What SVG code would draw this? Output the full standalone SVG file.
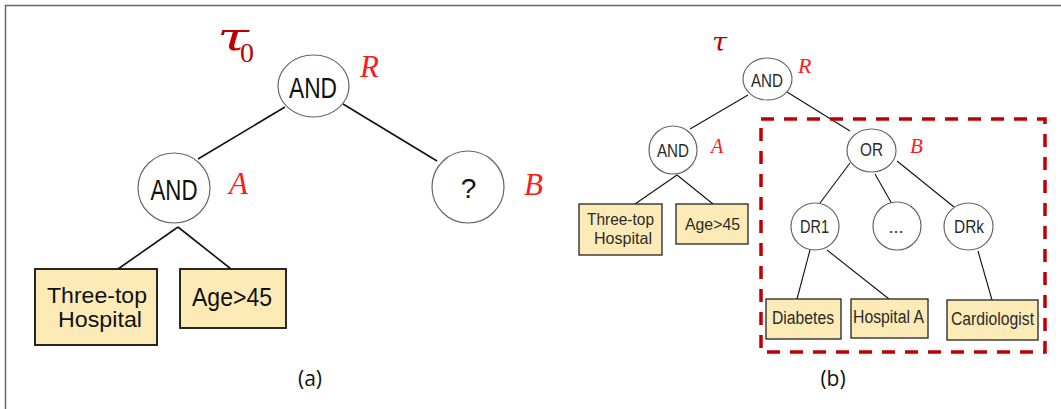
<svg xmlns="http://www.w3.org/2000/svg" width="1061" height="409" viewBox="0 0 1061 409">
<style>
.bg{fill:#ffffff}
.frame{fill:none;stroke:#666;stroke-width:1.5}
.node{fill:#ffffff;stroke:#666;stroke-width:1.2}
.boxa{fill:#fdebb7;stroke:#111;stroke-width:1.8}
.boxb{fill:#fdebb7;stroke:#222;stroke-width:1.3}
.t{font-family:"Liberation Sans",Arial,sans-serif;text-anchor:middle;fill:#111}
.tb{font-family:"Liberation Sans",Arial,sans-serif;text-anchor:middle;fill:#2a2a2a}
.lab{font-family:"Liberation Serif","Times New Roman",serif;font-style:italic;fill:#ff1a1a}
.tau{font-family:"DejaVu Serif",serif;font-style:italic;fill:#c00000}
.cap{font-family:"Open Sans","Noto Sans",sans-serif;text-anchor:middle;fill:#111}
.ea{stroke:#111;stroke-width:1.6;fill:none}
.eb{stroke:#111;stroke-width:1.1;fill:none}
.dash{fill:none;stroke:#c00000;stroke-width:3.5;stroke-dasharray:13 10}
</style>
<rect class="bg" x="0" y="0" width="1061" height="409"/>
<rect class="frame" x="5.5" y="5.5" width="1070" height="420"/>

<g id="connectors">
<line class="ea" x1="285" y1="107" x2="198" y2="159"/>
<line class="ea" x1="343" y1="104" x2="437" y2="161"/>
<line class="ea" x1="178" y1="227" x2="118" y2="269"/>
<line class="ea" x1="178" y1="227" x2="231" y2="269"/>
<line class="eb" x1="748" y1="95" x2="690" y2="129"/>
<line class="eb" x1="787" y1="92" x2="850" y2="131"/>
<line class="eb" x1="677" y1="175" x2="635" y2="204"/>
<line class="eb" x1="677" y1="175" x2="713" y2="204"/>
<line class="eb" x1="850" y1="163" x2="820" y2="203"/>
<line class="eb" x1="875" y1="174" x2="892" y2="204"/>
<line class="eb" x1="897" y1="161" x2="954" y2="207"/>
<line class="eb" x1="810" y1="250" x2="797" y2="299"/>
<line class="eb" x1="827" y1="250" x2="889" y2="299"/>
<line class="eb" x1="978" y1="251" x2="992" y2="300"/>
</g>

<g id="labels-a">
<text class="tau" x="217" y="50" font-size="40" textLength="32" lengthAdjust="spacingAndGlyphs">τ</text>
<text x="240" y="62" font-family="Liberation Serif, serif" font-size="28" fill="#c00000">0</text>
<text class="lab" x="360" y="77" font-size="31">R</text>
<text class="lab" x="229" y="194" font-size="31">A</text>
<text class="lab" x="524" y="195" font-size="31">B</text>
<text class="cap" x="310" y="386" font-size="21">(a)</text>
</g>

<g id="a-root"><ellipse class="node" cx="313.5" cy="86" rx="35.5" ry="31"/><text class="t" x="313" y="98" font-size="29" textLength="48" lengthAdjust="spacingAndGlyphs">AND</text></g>
<g id="a-and"><ellipse class="node" cx="174" cy="188" rx="36" ry="35"/><text class="t" x="174" y="200" font-size="29" textLength="47" lengthAdjust="spacingAndGlyphs">AND</text></g>
<g id="a-q"><circle class="node" cx="468" cy="187" r="36"/><text class="t" x="468.5" y="198" font-size="28">?</text></g>
<g id="a-three"><rect class="boxa" x="35" y="269" width="122" height="76"/><text class="t" x="97" y="303" font-size="21.5" textLength="100" lengthAdjust="spacingAndGlyphs">Three-top</text><text class="t" x="100" y="327" font-size="21.5" textLength="84" lengthAdjust="spacingAndGlyphs">Hospital</text></g>
<g id="a-age"><rect class="boxa" x="180" y="269" width="106" height="59"/><text class="t" x="232" y="306" font-size="26" textLength="80" lengthAdjust="spacingAndGlyphs">Age&gt;45</text></g>

<g id="labels-b">
<text class="tau" x="712" y="51" font-size="26" textLength="15" lengthAdjust="spacingAndGlyphs">τ</text>
<text class="lab" x="798" y="73" font-size="22">R</text>
<text class="lab" x="711" y="153" font-size="20">A</text>
<text class="lab" x="910" y="153" font-size="21">B</text>
<text class="cap" x="833" y="386" font-size="21">(b)</text>
</g>
<rect id="b-subtree" class="dash" x="761" y="119" width="284" height="233"/>

<g id="b-root"><ellipse class="node" cx="767.5" cy="79" rx="24.5" ry="21"/><text class="tb" x="767" y="87" font-size="18" textLength="32" lengthAdjust="spacingAndGlyphs">AND</text></g>
<g id="b-and"><circle class="node" cx="673" cy="150" r="24"/><text class="tb" x="673" y="157" font-size="18" textLength="32" lengthAdjust="spacingAndGlyphs">AND</text></g>
<g id="b-or"><ellipse class="node" cx="871.5" cy="150.5" rx="24.5" ry="21.5"/><text class="tb" x="871.5" y="156" font-size="18" textLength="23" lengthAdjust="spacingAndGlyphs">OR</text></g>
<g id="b-dr1"><ellipse class="node" cx="815" cy="226.5" rx="24" ry="23.5"/><text class="tb" x="814.5" y="233" font-size="18" textLength="29" lengthAdjust="spacingAndGlyphs">DR1</text></g>
<g id="b-dots"><ellipse class="node" cx="897" cy="226" rx="24" ry="24"/><text class="tb" x="896" y="233" font-size="18">...</text></g>
<g id="b-drk"><ellipse class="node" cx="968.5" cy="226.5" rx="24.5" ry="23.5"/><text class="tb" x="969" y="233" font-size="18" textLength="30" lengthAdjust="spacingAndGlyphs">DRk</text></g>
<g id="b-three"><rect class="boxb" x="579" y="204" width="83" height="51"/><text class="tb" x="620.5" y="225" font-size="16.5" textLength="67" lengthAdjust="spacingAndGlyphs">Three-top</text><text class="tb" x="623" y="244" font-size="16.5" textLength="58" lengthAdjust="spacingAndGlyphs">Hospital</text></g>
<g id="b-age"><rect class="boxb" x="676" y="204" width="72" height="40"/><text class="tb" x="712.5" y="230" font-size="17" textLength="55" lengthAdjust="spacingAndGlyphs">Age&gt;45</text></g>
<g id="b-diabetes"><rect class="boxb" x="766" y="299" width="75" height="40"/><text class="tb" x="803" y="324" font-size="18" textLength="62" lengthAdjust="spacingAndGlyphs">Diabetes</text></g>
<g id="b-hospa"><rect class="boxb" x="851" y="299" width="77" height="39"/><text class="tb" x="888.5" y="323" font-size="18" textLength="71" lengthAdjust="spacingAndGlyphs">Hospital A</text></g>
<g id="b-cardio"><rect class="boxb" x="947" y="300" width="91" height="40"/><text class="tb" x="992.5" y="325" font-size="18" textLength="83" lengthAdjust="spacingAndGlyphs">Cardiologist</text></g>
</svg>
